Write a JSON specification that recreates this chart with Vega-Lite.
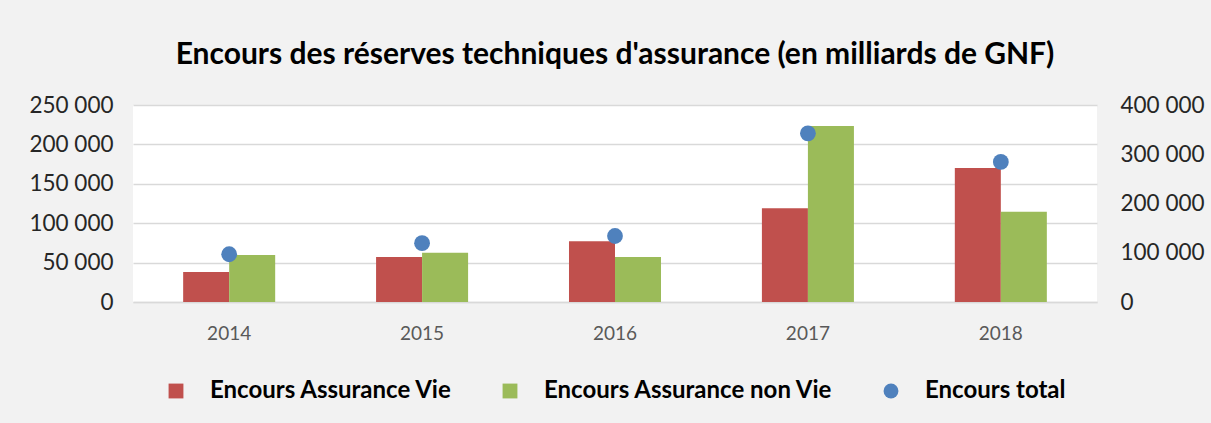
{
  "$schema": "https://vega.github.io/schema/vega-lite/v6.json",
  "width": 964,
  "height": 197,
  "autosize": {"type": "none"},
  "padding": {"left": 133, "top": 105, "right": 114, "bottom": 121},
  "background": "#f2f2f2",
  "title": {
    "text": "Encours des réserves techniques d'assurance (en milliards de GNF)",
    "font": "Lato",
    "fontSize": 30,
    "fontWeight": "bold",
    "color": "#000000",
    "anchor": "middle",
    "offset": 24
  },
  "config": {
    "locale": {"number": {"decimal": ",", "thousands": " ", "grouping": [3], "currency": ["", ""]}},
    "view": {"stroke": null, "fill": "#ffffff"},
    "font": "Lato",
    "legend": {"layout": {"bottom": {"anchor": "middle"}}}
  },
  "data": {
    "values": [
      {"annee": "2014", "vie": 38000, "nonvie": 59500, "total": 97000},
      {"annee": "2015", "vie": 57000, "nonvie": 62500, "total": 119500},
      {"annee": "2016", "vie": 77000, "nonvie": 57000, "total": 134000},
      {"annee": "2017", "vie": 119000, "nonvie": 223500, "total": 342500},
      {"annee": "2018", "vie": 170000, "nonvie": 114500, "total": 284500}
    ]
  },
  "transform": [
    {"fold": ["vie", "nonvie", "total"], "as": ["cle", "valeur"]},
    {"calculate": "datum.cle === 'vie' ? 'Encours Assurance Vie' : datum.cle === 'nonvie' ? 'Encours Assurance non Vie' : 'Encours total'", "as": "serie"}
  ],
  "encoding": {
    "x": {
      "field": "annee",
      "type": "nominal",
      "scale": {"paddingInner": 0.523, "paddingOuter": 0.26},
      "axis": {
        "title": null,
        "labelAngle": 0,
        "labelFont": "Lato",
        "labelFontSize": 19,
        "labelColor": "#595959",
        "labelPadding": 22,
        "ticks": false,
        "domainColor": "#d9d9d9",
        "domainWidth": 1.5,
        "grid": false
      }
    }
  },
  "layer": [
    {
      "transform": [{"filter": "datum.cle !== 'total'"}],
      "mark": {"type": "bar", "stroke": null},
      "encoding": {
        "xOffset": {"field": "serie", "type": "nominal", "sort": ["Encours Assurance Vie", "Encours Assurance non Vie"], "scale": {"paddingInner": 0, "paddingOuter": 0}},
        "y": {
          "field": "valeur",
          "type": "quantitative",
          "scale": {"domain": [0, 250000]},
          "axis": {
            "title": null,
            "orient": "left",
            "values": [0, 50000, 100000, 150000, 200000, 250000],
            "format": ",d",
            "labelFont": "Lato",
            "labelFontSize": 22.5,
            "labelColor": "#262626",
            "labelPadding": 20,
            "ticks": false,
            "domain": false,
            "grid": true,
            "gridColor": "#d9d9d9",
            "gridWidth": 1.5
          }
        },
        "color": {
          "field": "serie",
          "type": "nominal",
          "scale": {
            "domain": ["Encours Assurance Vie", "Encours Assurance non Vie", "Encours total"],
            "range": ["#c0504d", "#9bbb59", "#4f81bd"]
          },
          "legend": {
            "title": null,
            "orient": "bottom",
            "direction": "horizontal",
            "offset": 36,
            "labelFont": "Lato",
            "labelFontSize": 24,
            "labelFontWeight": "bold",
            "labelColor": "#000000",
            "labelLimit": 0,
            "symbolSize": 220,
            "symbolStrokeWidth": 0,
            "labelOffset": 22,
            "columnPadding": 45,
            "symbolType": "square"
          }
        }
      }
    },
    {
      "transform": [{"filter": "datum.cle === 'total'"}],
      "mark": {"type": "point", "filled": true, "opacity": 1, "size": 250, "shape": "circle"},
      "encoding": {
        "y": {
          "field": "valeur",
          "type": "quantitative",
          "scale": {"domain": [0, 400000]},
          "axis": {
            "title": null,
            "orient": "right",
            "values": [0, 100000, 200000, 300000, 400000],
            "format": ",d",
            "labelFont": "Lato",
            "labelFontSize": 22.5,
            "labelColor": "#262626",
            "labelPadding": 23,
            "ticks": false,
            "domain": false,
            "grid": false
          }
        },
        "color": {
          "field": "serie",
          "type": "nominal",
          "scale": {
            "domain": ["Encours Assurance Vie", "Encours Assurance non Vie", "Encours total"],
            "range": ["#c0504d", "#9bbb59", "#4f81bd"]
          }
        },
        "shape": {
          "field": "serie",
          "type": "nominal",
          "scale": {
            "domain": ["Encours Assurance Vie", "Encours Assurance non Vie", "Encours total"],
            "range": ["square", "square", "circle"]
          },
          "legend": null
        }
      }
    }
  ],
  "resolve": {"scale": {"y": "independent", "xOffset": "independent"}}
}
